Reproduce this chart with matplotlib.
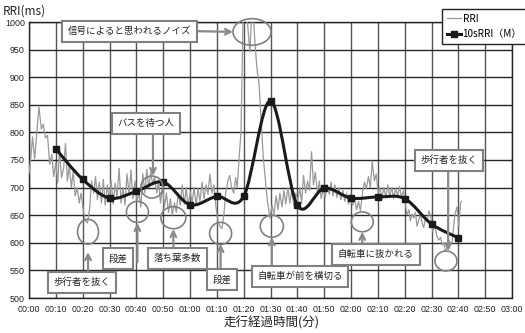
import numpy as np
import matplotlib
matplotlib.use("Agg")
import matplotlib.pyplot as plt
from matplotlib.path import Path
from matplotlib.patches import PathPatch, Ellipse
from matplotlib.lines import Line2D
from matplotlib.ticker import FuncFormatter, MultipleLocator

plt.rcParams['font.family'] = ['Noto Sans CJK JP', 'DejaVu Sans']

# RRI raw (time in s, value in ms)
rri_t = [0, 0.8, 1.3, 2.1, 2.9, 3.7, 4.6, 5.3, 6.1, 6.9, 7.7, 8.5, 9.2, 10,
         10.7, 11.4, 12.1, 12.9, 13.6, 14.3, 15.0, 15.8, 16.5, 17.2, 18.0, 18.7, 19.4, 20.2,
         21.0, 21.8, 22.6, 23.3, 24.1, 24.8,
         25.5, 26.2, 27.0, 27.7, 28.4, 29.2, 29.9, 30.6, 31.4, 32.1, 32.8, 33.6, 34.3, 35.0,
         35.8, 36.5, 37.3, 38.0, 38.7, 39.5,
         40.2, 41.0, 41.7, 42.4, 43.2, 43.9, 44.6, 45.4, 46.1, 46.8, 47.6, 48.3, 49.0, 49.8,
         50.5, 51.2, 52.0, 52.7, 53.4, 54.2, 54.9, 55.6, 56.4, 57.1, 57.9, 58.6, 59.3, 60.1,
         60.8, 61.5, 62.3, 63.0, 63.7, 64.5, 65.2, 66.0, 66.7, 67.4, 68.2, 68.9, 69.6,
         70.4, 71.1, 71.9, 72.6, 73.3, 74.1, 74.8, 75.5, 76.3, 77.0, 77.6, 78.3, 79.0,
         79.9, 80.9, 82.3, 83.3, 84.2, 85.0, 85.7, 87.3, 88.8, 89.8,
         90.6, 91.3, 92.1, 92.8, 93.5, 94.3, 95.0, 95.7, 96.5, 97.2, 97.9, 98.7, 99.4,
         100.2, 100.9, 101.6, 102.3, 103.1, 103.8, 104.5, 105.3, 106.0, 106.7, 107.5, 108.2,
         108.9, 109.7,
         110.4, 111.1, 111.9, 112.6, 113.3, 114.0, 114.8, 115.5, 116.2, 117.0, 117.7, 118.4,
         119.1, 119.9,
         120.6, 121.3, 122.1, 122.8, 123.5, 124.3, 125.0, 125.7, 126.5, 127.2, 127.9, 128.7,
         129.4, 130.1,
         130.8, 131.5, 132.2, 133.0, 133.7, 134.4, 135.2, 135.9, 136.6, 137.4, 138.1, 138.8,
         139.6,
         140.3, 140.9, 141.6, 142.1, 142.8, 143.4, 144.0, 144.6, 145.3, 145.9, 146.5, 147.1,
         147.8, 148.4, 149.0, 149.6, 150.5,
         151.2, 152.0, 152.7, 153.4, 154.0, 154.6, 155.2, 155.8, 156.5, 157.1, 157.7, 158.7,
         159.5, 160.2, 160.8, 161.2]
rri_v = [725, 760, 792, 752, 800, 846, 806, 815, 790, 795, 742, 760, 720, 745,
         708, 768, 718, 735, 780, 712, 740, 700, 730, 685, 700, 672, 690, 660,
         640, 636, 662, 712, 690, 720,
         678, 710, 672, 715, 668, 705, 675, 712, 670, 708, 682, 735, 672, 700,
         668, 725, 688, 732, 680, 712,
         675, 690, 665, 725, 690, 733, 700, 728, 705, 720, 690, 712, 672, 700,
         665, 690, 655, 680, 650, 672, 655, 690, 668, 705, 670, 700, 666, 692,
         672, 700, 668, 698, 675, 710, 680, 705, 688, 724, 690, 705, 668,
         640, 630, 626, 650, 690, 712, 722, 700, 690, 718, 700, 755, 800,
         1040, 1030, 946, 1040, 962, 913, 890, 755, 677, 645,
         668, 652, 685, 660, 690, 665, 695, 670, 700, 672, 695, 668, 690,
         675, 700, 672, 722, 690, 712, 695, 765, 705, 728, 690, 712,
         680, 700,
         682, 705, 688, 710, 685, 705, 682, 700, 678, 695, 675, 690,
         670, 688,
         668, 680, 660, 675, 658, 690, 710, 698, 720, 700, 748, 712,
         725, 690,
         700, 678, 700, 682, 705, 685, 700, 680, 698, 685, 702, 682,
         695,
         668, 651, 660, 640, 652, 645, 655, 630, 642, 651, 636, 628,
         645, 640, 658, 651, 620,
         632, 612, 605, 610, 596, 600, 584, 590, 605, 598, 602, 651,
         665, 630, 672, 675]

# 10 s moving values
avg_t = [10, 20, 30, 40, 50, 60, 70, 80, 90, 100, 110, 120, 130, 140, 150, 160]
avg_v = [770, 715, 681, 693, 710, 669, 684, 684, 857, 668, 699, 681, 683, 680, 634, 609]

# annotations: label text, label centre, arrow start/end, circle centre and size
notes = ["信号によると思われるノイズ", "バスを待つ人", "歩行者を抜く", "段差", "落ち葉多数",
         "段差", "自転車が前を横切る", "自転車に抜かれる", "歩行者を抜く"]
note_xy = [(37.6, 983.5), (43.6, 816), (19.75, 528), (33.2, 571), (55.3, 571.5),
           (71.9, 533.5), (101.0, 539), (129.3, 579), (156.5, 749.5)]
arrow_from = [(61.9, 983.5), (46.2, 797), (22.0, 547), (40.4, 565), (53.8, 587),
              (71.4, 549), (90.5, 554), (124.2, 594), (156.2, 732)]
arrow_to = [(76.0, 982), (46.2, 721), (22.0, 583), (40.4, 636), (53.8, 625),
            (71.4, 598), (90.5, 610), (124.2, 620), (156.2, 585)]
circ_xy = [(83.1, 982), (45.8, 701), (22.0, 620), (40.4, 656), (53.8, 645.5),
           (71.4, 617), (90.5, 630), (124.2, 638), (155.4, 567)]
circ_wh = [(14.2, 48), (8.2, 40), (7.8, 45), (8.2, 38), (9.3, 40),
           (8.2, 40), (8.6, 40), (8.2, 36), (8.2, 36)]


def smooth_path(xs, ys):
    pts = np.column_stack([xs, ys]).astype(float)
    n = len(pts)
    verts = [pts[0]]
    codes = [Path.MOVETO]
    for i in range(n - 1):
        p0 = pts[max(i - 1, 0)]
        p1 = pts[i]
        p2 = pts[i + 1]
        p3 = pts[min(i + 2, n - 1)]
        verts += [p1 + (p2 - p0) / 6, p2 - (p3 - p1) / 6, p2]
        codes += [Path.CURVE4] * 3
    return Path(verts, codes)


fig = plt.figure(figsize=(5.25, 3.33), dpi=100)
ax = fig.add_axes([29 / 525, 1 - 298 / 333, (512 - 29) / 525, (298 - 22) / 333])

ax.set_xlim(0, 180)
ax.set_ylim(500, 1000)
ax.xaxis.set_major_locator(MultipleLocator(10))
ax.yaxis.set_major_locator(MultipleLocator(50))
ax.xaxis.set_major_formatter(FuncFormatter(lambda t, p: "%02d:%02d" % (int(t) // 60, int(t) % 60)))
ax.grid(axis='y', color='#262626', lw=1.0)
ax.grid(axis='x', color='#555555', lw=1.0)
ax.set_axisbelow(True)
for s in ax.spines.values():
    s.set_color('#222222')
    s.set_linewidth(1.0)
ax.tick_params(length=0, labelsize=6.4, colors='#222222')
ax.tick_params(axis='x', pad=5)
ax.tick_params(axis='y', pad=3)
for lab in ax.get_xticklabels() + ax.get_yticklabels():
    lab.set_fontfamily(['Liberation Sans', 'DejaVu Sans'])

ax.plot(rri_t, rri_v, color='#999999', lw=0.9, zorder=3)
ax.add_patch(PathPatch(smooth_path(avg_t, avg_v), fill=False, color='#1a1a1a', lw=2.2, zorder=4))
ax.plot(avg_t, avg_v, ls='none', marker='s', ms=5, color='#1a1a1a', zorder=5)

for i, txt in enumerate(notes):
    ax.add_patch(Ellipse(circ_xy[i], circ_wh[i][0], circ_wh[i][1], fill=False,
                         ec='#808080', lw=1.2, zorder=6, clip_on=False))
    ax.annotate("", xy=arrow_to[i], xytext=arrow_from[i],
                arrowprops=dict(arrowstyle='->', color='#8a8a8a', lw=1.6,
                                shrinkA=0, shrinkB=0), zorder=6)
    ax.text(note_xy[i][0], note_xy[i][1], txt, fontsize=6.8, color='#222222',
            ha='center', va='center', zorder=7,
            bbox=dict(boxstyle='square,pad=0.6', fc='white', ec='#808080', lw=1.5))

fig.text(3 / 525, 1 - 11 / 333, "RRI(ms)", fontsize=8.5, va='center', ha='left', color='#222222')
fig.text(272 / 525, 1 - 323 / 333, "走行経過時間(分)", fontsize=9, va='center', ha='center',
         color='#222222')

handles = [Line2D([], [], color='#999999', lw=0.9),
           Line2D([], [], color='#1a1a1a', lw=2.2, marker='s', ms=5)]
leg = fig.legend(handles, ["RRI", "10sRRI（M）"], loc='upper left',
                 bbox_to_anchor=(442 / 525, 1 - 9 / 333), fontsize=7.2, frameon=True,
                 fancybox=False, edgecolor='#222222', framealpha=1, handlelength=1.4,
                 handletextpad=0.2, borderpad=0.45, labelspacing=0.6, borderaxespad=0)
leg.get_frame().set_linewidth(1.0)

fig.savefig("out.png", dpi=100)
